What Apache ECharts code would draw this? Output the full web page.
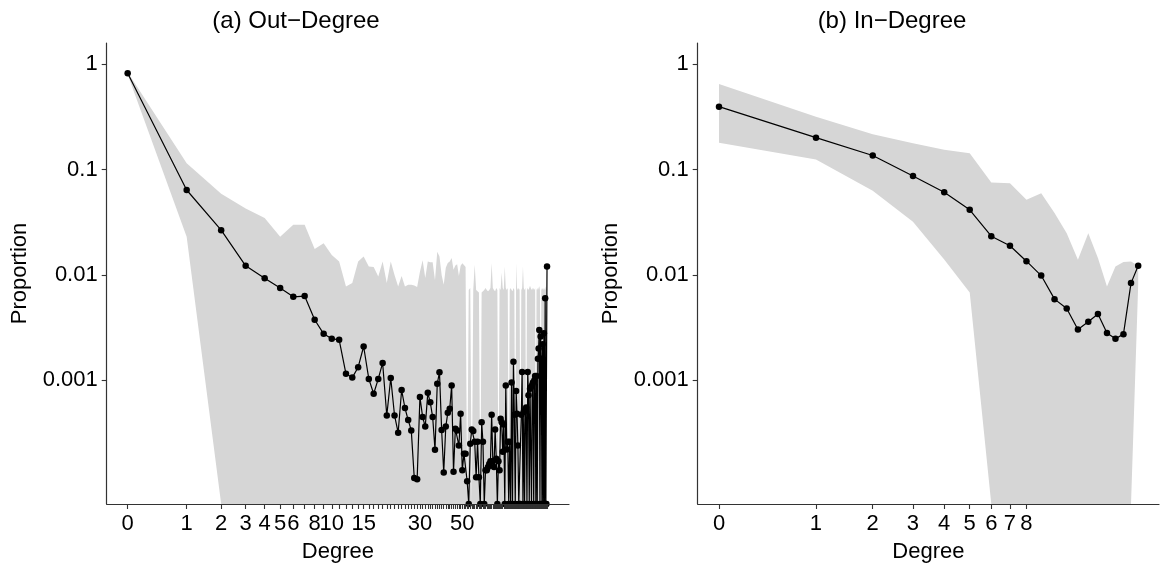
<!DOCTYPE html>
<html>
<head>
<meta charset="utf-8">
<script src="https://cdn.jsdelivr.net/npm/echarts@6/dist/echarts.min.js"></script>
<style>
  html, body { margin: 0; padding: 0; background: #fff; }
  #chart { width: 1161px; height: 568px; }
</style>
</head>
<body>
<div id="chart"></div>
<script>
// out-degree proportions, degree 0..137 (0 = no node with that degree)
const outMean = [
  0.82, 0.064, 0.0266, 0.0122, 0.0093, 0.0075, 0.0062, 0.0063, 0.00375, 0.00276,
  0.00248, 0.00242, 0.00115, 0.00106, 0.00133, 0.00209, 0.00103, 0.000745, 0.00103, 0.00146,
  0.000463, 0.00105, 0.000463, 0.000318, 0.000807, 0.000545, 0.000419, 0.000334, 0.000118, 0.000115,
  0.000693, 0.000447, 0.000363, 0.000759, 0.000617, 0.000447, 0.000219, 0.000927, 0.00119, 0.000337,
  0.000133, 0.000363, 0.00049, 0.000537, 0.00089, 0.000135, 0.000347, 0.000334, 0.00024, 0.000481,
  0.00014, 0.0002, 0.0002, 0.00011, 0, 0.00025, 0.00034, 0.00033, 0.00026, 0.00012,
  0.00026, 0.00012, 0, 0.0004, 0.00026, 0, 0.00014, 0.00014, 0.00015, 0.00016,
  0.00017, 0.00047, 0.00017, 0.00015, 0.00034, 0.00018, 0, 0.00017, 0.00014, 0.00043,
  0.0004, 0.00021, 0.00038, 0, 0.00089, 0.00022, 0.00026, 0, 0.00026, 0,
  0.00095, 0, 0.0015, 0.00047, 0, 0.00079, 0.00048, 0.00024, 0, 0,
  0, 0.00047, 0.0012, 0, 0.0005, 0, 0.00052, 0.00055, 0, 0.0012,
  0.00072, 0, 0.00083, 0.00086, 0, 0.0009, 0.00095, 0, 0.001, 0.0011,
  0, 0.0011, 0, 0.0016, 0.002, 0.003, 0, 0.0026, 0.0016, 0,
  0.0022, 0, 0.0028, 0, 0.006, 0, 0, 0.012
]
// simulated envelope, upper edge
const outUpper = [
  0.84, 0.115, 0.059, 0.0427, 0.0347, 0.0231, 0.0299, 0.0299, 0.0176, 0.02,
  0.0155, 0.0134, 0.00776, 0.00836, 0.0134, 0.015, 0.012, 0.0119, 0.00966, 0.0134,
  0.00836, 0.0134, 0.01, 0.00776, 0.00977, 0.00776, 0.00805, 0.00805, 0.00794, 0.00766,
  0.0107, 0.0138, 0.00933, 0.0134, 0.0132, 0.0132, 0.0089, 0.0166, 0.015, 0.01,
  0.00805, 0.0117, 0.013, 0.0134, 0.0145, 0.0112, 0.0123, 0.0126, 0.00977, 0.0122,
  0.0129, 0.0124, 0.0119, 0, 0.0072, 0.0075, 0, 0.0072, 0.0125, 0.0072,
  0.007, 0.0068, 0, 0.0068, 0.007, 0.0072, 0.0075, 0.0072, 0.007, 0.0072,
  0.0075, 0.013, 0.0075, 0.0072, 0.007, 0.0075, 0.0072, 0, 0.0075, 0.0072,
  0.0105, 0.0075, 0.0072, 0.012, 0.0075, 0.0072, 0.0075, 0, 0.0072, 0.0075,
  0.0072, 0.007, 0.0075, 0.0072, 0, 0.013, 0.0075, 0.0072, 0.0075, 0.0072,
  0, 0.0072, 0.0075, 0.012, 0.0075, 0.0072, 0.0075, 0, 0.0072, 0.0075,
  0.0072, 0.0075, 0.0079, 0.0075, 0.0072, 0.0075, 0.0072, 0.0075, 0.0072, 0.0075,
  0, 0.0072, 0.0075, 0.0072, 0.0075, 0.0078, 0.0072, 0, 0.0075, 0.0072,
  0.0075, 0.0072, 0.0075, 0.0072, 0.0078, 0.0072, 0.0075, 0.0125
]
// simulated envelope, lower edge
const outLower = [
  0.80, 0.023, 0, 0, 0, 0, 0, 0, 0, 0,
  0, 0, 0, 0, 0, 0, 0, 0, 0, 0,
  0, 0, 0, 0, 0, 0, 0, 0, 0, 0,
  0, 0, 0, 0, 0, 0, 0, 0, 0, 0,
  0, 0, 0, 0, 0, 0, 0, 0, 0, 0,
  0, 0, 0, 0, 0, 0, 0, 0, 0, 0,
  0, 0, 0, 0, 0, 0, 0, 0, 0, 0,
  0, 0, 0, 0, 0, 0, 0, 0, 0, 0,
  0, 0, 0, 0, 0, 0, 0, 0, 0, 0,
  0, 0, 0, 0, 0, 0, 0, 0, 0, 0,
  0, 0, 0, 0, 0, 0, 0, 0, 0, 0,
  0, 0, 0, 0, 0, 0, 0, 0, 0, 0,
  0, 0, 0, 0, 0, 0, 0, 0, 0, 0,
  0, 0, 0, 0, 0, 0, 0, 0
]

// in-degree, degree 0..19
const inMean = [0.396, 0.201, 0.136, 0.087, 0.061, 0.0415, 0.0233, 0.0189, 0.0135, 0.00986,
  0.00589, 0.00479, 0.00303, 0.00359, 0.00425, 0.00281, 0.00248, 0.00274, 0.00836, 0.0122]
const inUpper = [0.65, 0.318, 0.217, 0.178, 0.154, 0.143, 0.0753, 0.0743, 0.0516, 0.0597,
  0.0387, 0.0249, 0.0139, 0.0249, 0.0145, 0.00776, 0.012, 0.0133, 0.0134, 0.0122]
const inLower = [0.18, 0.125, 0.063, 0.032, 0.014, 0.0068, 0, 0, 0, 0,
  0, 0, 0, 0, 0, 0, 0, 0, 0, 0.0081]

const outTickLabels = [0, 1, 2, 3, 4, 5, 6, 8, 10, 15, 30, 50]
const inTickLabels = [0, 1, 2, 3, 4, 5, 6, 7, 8]
const yTickLabels = [1, 0.1, 0.01, 0.001]

const Y_MIN = -4.175, Y_MAX = 0.202
const FONT = 'Liberation Sans'
const AXIS_COLOR = '#333'

// log10(1 + degree) on x, log10(proportion) on y, zero goes to the floor
function lx (d) { return Math.log10(1 + d) }
function ly (p) { return p > 0 ? Math.log10(p) : Y_MIN }

function ribbon (idx, upper, lower) {
  let pts = upper.map((v, i) => [lx(i), ly(v)])
    .concat(lower.map((v, i) => [lx(i), ly(v)]).reverse())
  return {
    type: 'custom',
    xAxisIndex: idx,
    yAxisIndex: idx,
    silent: true,
    z: 1,
    data: [[0, Y_MIN]],
    renderItem: function (params, api) {
      return {
        type: 'polygon',
        shape: { points: pts.map(p => api.coord(p)) },
        style: { fill: '#d6d6d6', stroke: null }
      }
    }
  }
}

function meanLine (idx, values) {
  return {
    type: 'line',
    xAxisIndex: idx,
    yAxisIndex: idx,
    data: values.map((v, i) => [lx(i), ly(v)]),
    symbol: 'circle',
    symbolSize: 6.5,
    showSymbol: true,
    lineStyle: { color: '#000', width: 1.2 },
    itemStyle: { color: '#000' },
    z: 3
  }
}

function xAxis (idx, min, max, ticks, labels) {
  return {
    gridIndex: idx,
    type: 'value',
    min: min,
    max: max,
    name: 'Degree',
    nameLocation: 'middle',
    nameGap: 37,
    nameTextStyle: { fontFamily: FONT, fontSize: 22, color: '#000' },
    axisLine: { onZero: false, lineStyle: { color: AXIS_COLOR, width: 1.2 } },
    axisTick: { customValues: ticks.map(lx), length: 5, lineStyle: { color: AXIS_COLOR, width: 1.1 } },
    axisLabel: {
      customValues: labels.map(lx),
      formatter: v => String(Math.round(Math.pow(10, v) - 1)),
      fontFamily: FONT, fontSize: 22, color: '#000', margin: 9
    },
    splitLine: { show: false },
    z: 5
  }
}

function yAxis (idx) {
  return {
    gridIndex: idx,
    type: 'value',
    min: Y_MIN,
    max: Y_MAX,
    name: 'Proportion',
    nameLocation: 'middle',
    nameGap: 76,
    nameTextStyle: { fontFamily: FONT, fontSize: 22, color: '#000' },
    axisLine: { show: true, onZero: false, lineStyle: { color: AXIS_COLOR, width: 1.2 } },
    axisTick: { show: true, customValues: yTickLabels.map(Math.log10), length: 5, lineStyle: { color: AXIS_COLOR, width: 1.1 } },
    axisLabel: {
      customValues: yTickLabels.map(Math.log10),
      formatter: v => String(yTickLabels.find(t => Math.abs(Math.log10(t) - v) < 1e-6)),
      fontFamily: FONT, fontSize: 22, color: '#000', margin: 9
    },
    splitLine: { show: false },
    z: 5
  }
}

let chart = echarts.init(document.getElementById('chart'))
chart.setOption({
  animation: false,
  backgroundColor: '#fff',
  title: [
    { text: '(a) Out−Degree', left: 291, top: 4, textAlign: 'center',
      textStyle: { fontFamily: FONT, fontSize: 24, fontWeight: 'normal', color: '#000' } },
    { text: '(b) In−Degree', left: 887, top: 4, textAlign: 'center',
      textStyle: { fontFamily: FONT, fontSize: 24, fontWeight: 'normal', color: '#000' } }
  ],
  grid: [
    { left: 106.7, top: 43, width: 462.3, height: 461.3 },
    { left: 697.7, top: 43, width: 461.3, height: 461.3 }
  ],
  xAxis: [
    xAxis(0, -0.107, 2.252, outMean.map((v, i) => i), outTickLabels),
    xAxis(1, -0.0661, 1.3656, inTickLabels, inTickLabels)
  ],
  yAxis: [yAxis(0), yAxis(1)],
  series: [
    ribbon(0, outUpper, outLower),
    meanLine(0, outMean),
    ribbon(1, inUpper, inLower),
    meanLine(1, inMean)
  ]
})
</script>
</body>
</html>
